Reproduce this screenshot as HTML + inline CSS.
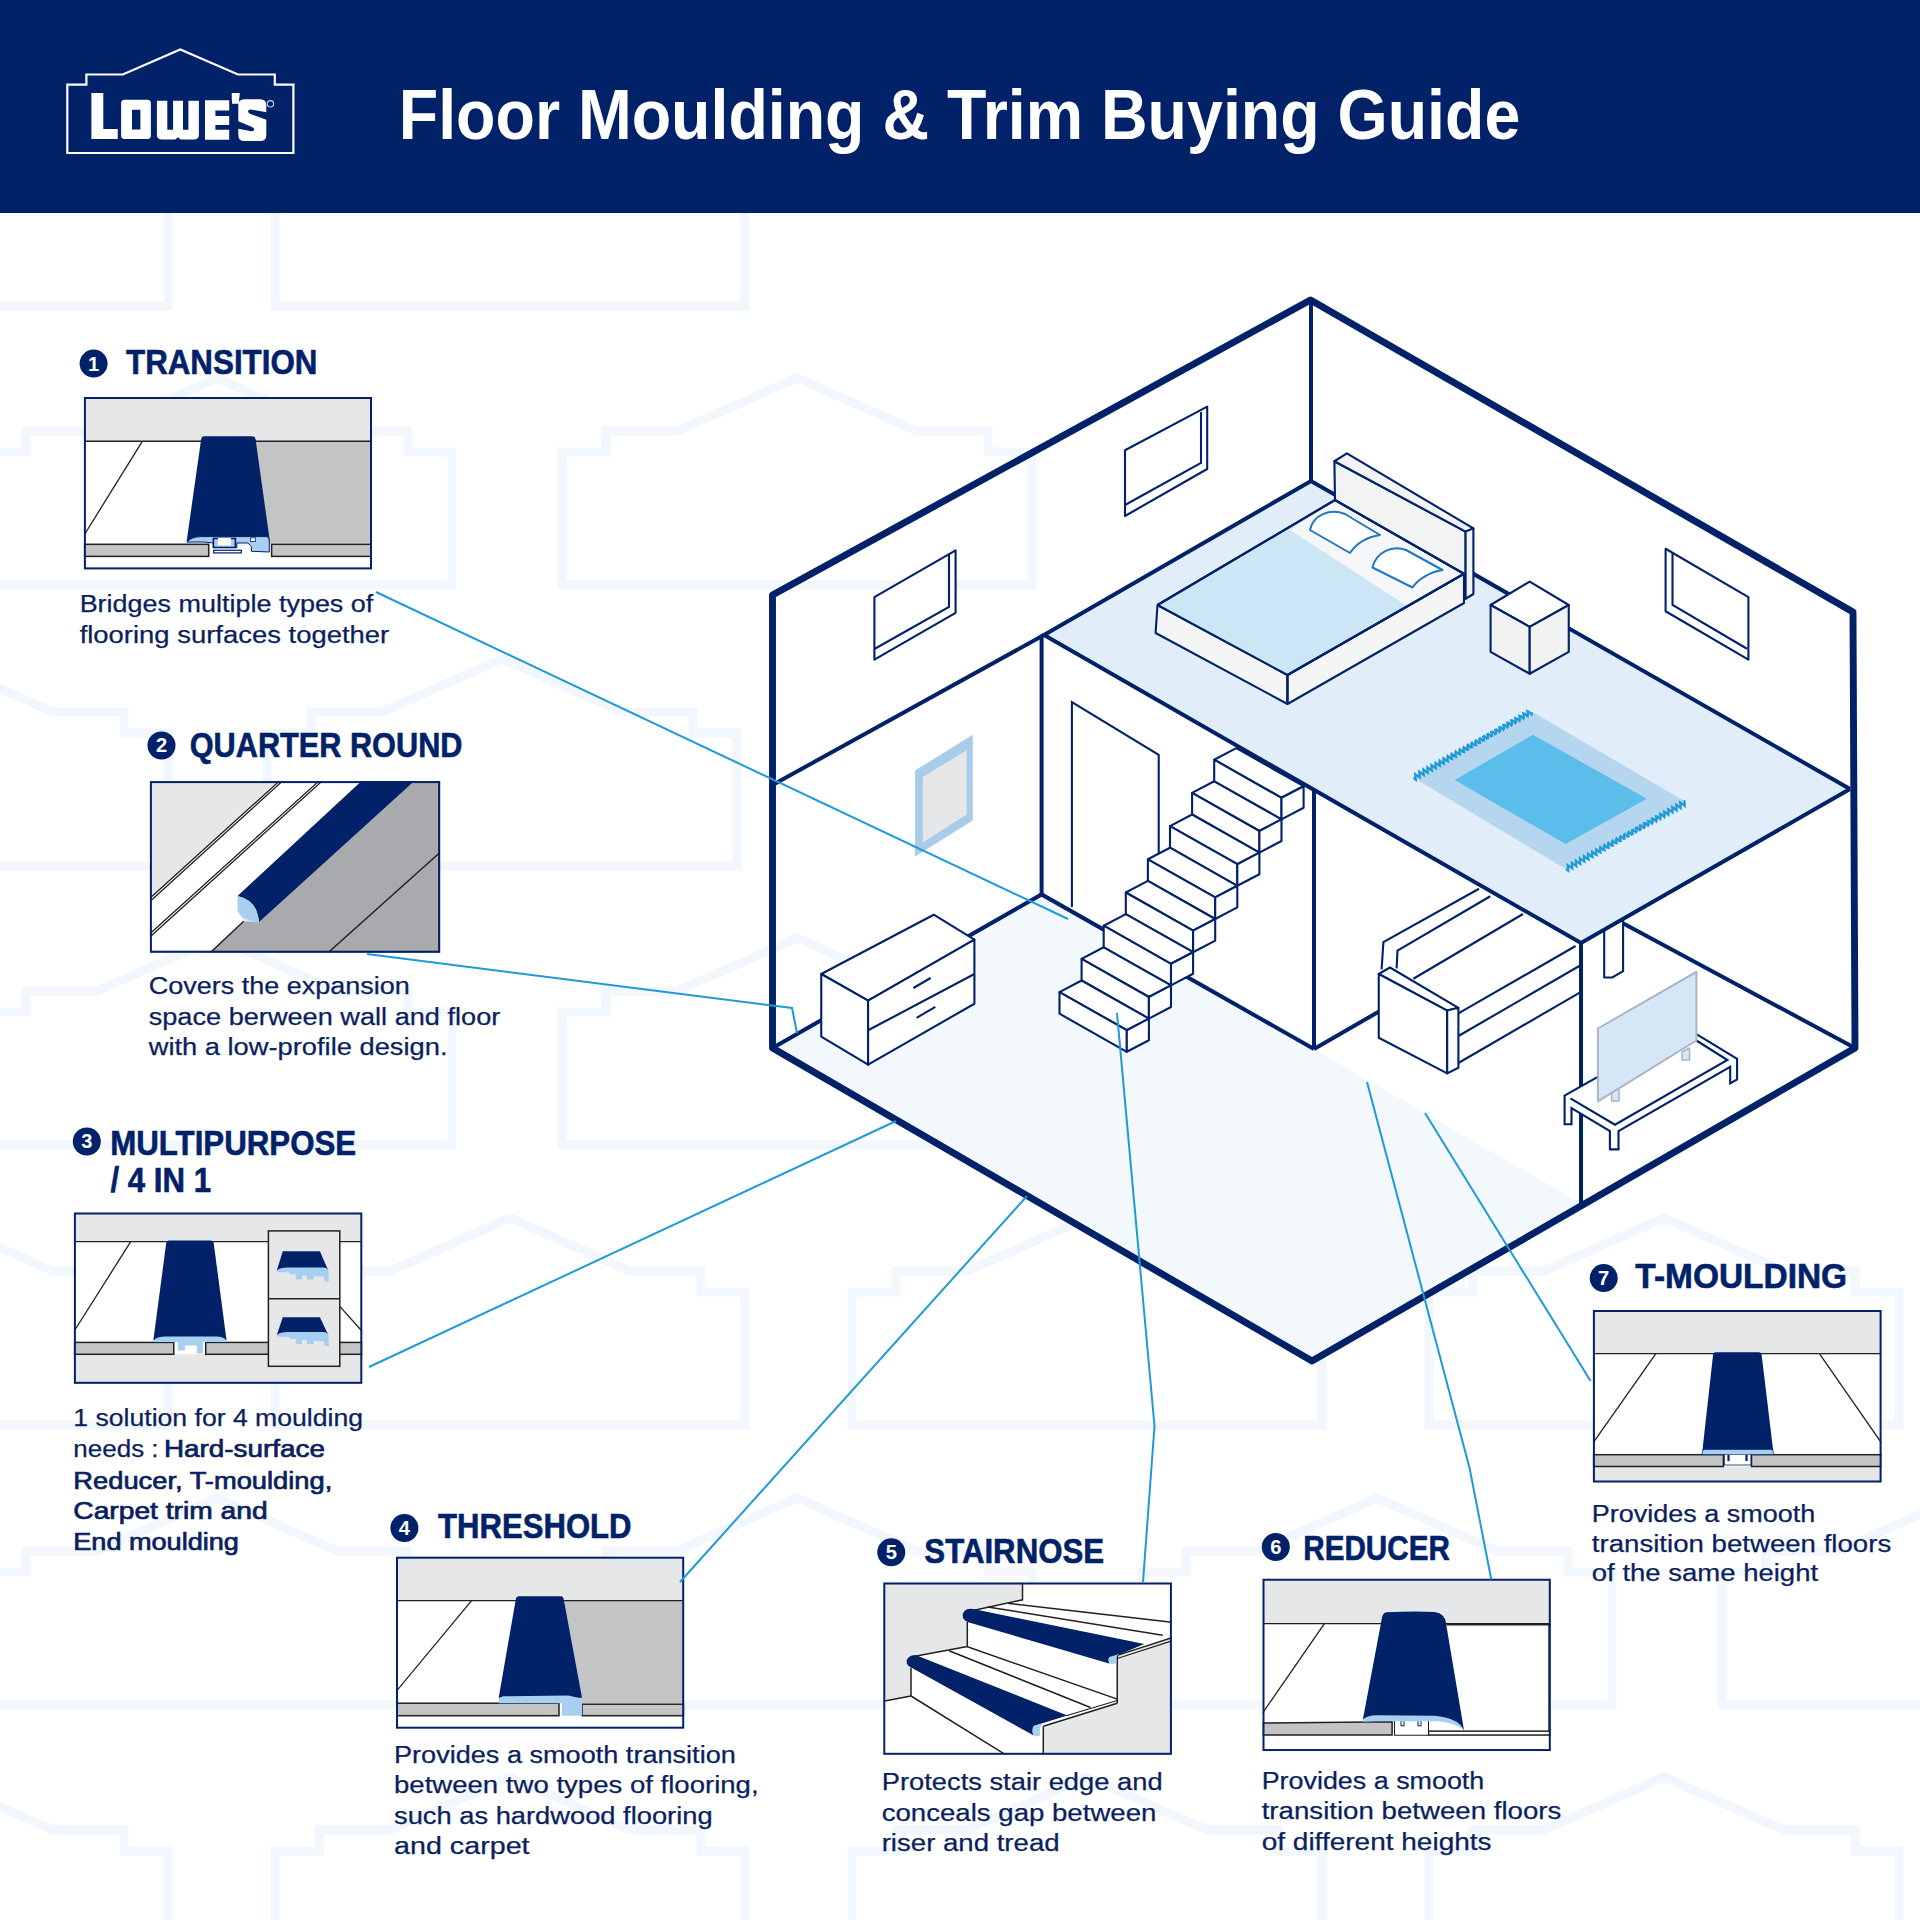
<!DOCTYPE html>
<html><head><meta charset="utf-8"><title>Floor Moulding &amp; Trim Buying Guide</title>
<style>html,body{margin:0;padding:0;background:#fff;width:1920px;height:1920px;overflow:hidden}svg{display:block}</style>
</head><body>
<svg width="1920" height="1920" viewBox="0 0 1920 1920">
<g fill="none" stroke="#F1F7FD" stroke-width="9" stroke-linejoin="miter">
<polygon points="-302.00,306.00 -302.00,173.00 -258.00,173.00 -258.00,152.00 -187.00,152.00 -67.00,99.00 53.00,152.00 124.00,152.00 124.00,173.00 168.00,173.00 168.00,306.00"/>
<polygon points="275.00,306.00 275.00,173.00 319.00,173.00 319.00,152.00 390.00,152.00 510.00,99.00 630.00,152.00 701.00,152.00 701.00,173.00 745.00,173.00 745.00,306.00"/>
<polygon points="-18.00,585.00 -18.00,452.00 26.00,452.00 26.00,431.00 97.00,431.00 217.00,378.00 337.00,431.00 408.00,431.00 408.00,452.00 452.00,452.00 452.00,585.00"/>
<polygon points="562.00,585.00 562.00,452.00 606.00,452.00 606.00,431.00 677.00,431.00 797.00,378.00 917.00,431.00 988.00,431.00 988.00,452.00 1032.00,452.00 1032.00,585.00"/>
<polygon points="-302.00,866.00 -302.00,733.00 -258.00,733.00 -258.00,712.00 -187.00,712.00 -67.00,659.00 53.00,712.00 124.00,712.00 124.00,733.00 168.00,733.00 168.00,866.00"/>
<polygon points="267.00,866.00 267.00,733.00 311.00,733.00 311.00,712.00 382.00,712.00 502.00,659.00 622.00,712.00 693.00,712.00 693.00,733.00 737.00,733.00 737.00,866.00"/>
<polygon points="-18.00,1145.00 -18.00,1012.00 26.00,1012.00 26.00,991.00 97.00,991.00 217.00,938.00 337.00,991.00 408.00,991.00 408.00,1012.00 452.00,1012.00 452.00,1145.00"/>
<polygon points="562.00,1145.00 562.00,1012.00 606.00,1012.00 606.00,991.00 677.00,991.00 797.00,938.00 917.00,991.00 988.00,991.00 988.00,1012.00 1032.00,1012.00 1032.00,1145.00"/>
<polygon points="-302.00,1425.00 -302.00,1292.00 -258.00,1292.00 -258.00,1271.00 -187.00,1271.00 -67.00,1218.00 53.00,1271.00 124.00,1271.00 124.00,1292.00 168.00,1292.00 168.00,1425.00"/>
<polygon points="275.00,1425.00 275.00,1292.00 319.00,1292.00 319.00,1271.00 390.00,1271.00 510.00,1218.00 630.00,1271.00 701.00,1271.00 701.00,1292.00 745.00,1292.00 745.00,1425.00"/>
<polygon points="852.00,1425.00 852.00,1292.00 896.00,1292.00 896.00,1271.00 967.00,1271.00 1087.00,1218.00 1207.00,1271.00 1278.00,1271.00 1278.00,1292.00 1322.00,1292.00 1322.00,1425.00"/>
<polygon points="1429.00,1425.00 1429.00,1292.00 1473.00,1292.00 1473.00,1271.00 1544.00,1271.00 1664.00,1218.00 1784.00,1271.00 1855.00,1271.00 1855.00,1292.00 1899.00,1292.00 1899.00,1425.00"/>
<polygon points="-18.00,1705.00 -18.00,1572.00 26.00,1572.00 26.00,1551.00 97.00,1551.00 217.00,1498.00 337.00,1551.00 408.00,1551.00 408.00,1572.00 452.00,1572.00 452.00,1705.00"/>
<polygon points="562.00,1705.00 562.00,1572.00 606.00,1572.00 606.00,1551.00 677.00,1551.00 797.00,1498.00 917.00,1551.00 988.00,1551.00 988.00,1572.00 1032.00,1572.00 1032.00,1705.00"/>
<polygon points="1142.00,1705.00 1142.00,1572.00 1186.00,1572.00 1186.00,1551.00 1257.00,1551.00 1377.00,1498.00 1497.00,1551.00 1568.00,1551.00 1568.00,1572.00 1612.00,1572.00 1612.00,1705.00"/>
<polygon points="1722.00,1705.00 1722.00,1572.00 1766.00,1572.00 1766.00,1551.00 1837.00,1551.00 1957.00,1498.00 2077.00,1551.00 2148.00,1551.00 2148.00,1572.00 2192.00,1572.00 2192.00,1705.00"/>
<polygon points="-302.00,1984.00 -302.00,1851.00 -258.00,1851.00 -258.00,1830.00 -187.00,1830.00 -67.00,1777.00 53.00,1830.00 124.00,1830.00 124.00,1851.00 168.00,1851.00 168.00,1984.00"/>
<polygon points="275.00,1984.00 275.00,1851.00 319.00,1851.00 319.00,1830.00 390.00,1830.00 510.00,1777.00 630.00,1830.00 701.00,1830.00 701.00,1851.00 745.00,1851.00 745.00,1984.00"/>
<polygon points="852.00,1984.00 852.00,1851.00 896.00,1851.00 896.00,1830.00 967.00,1830.00 1087.00,1777.00 1207.00,1830.00 1278.00,1830.00 1278.00,1851.00 1322.00,1851.00 1322.00,1984.00"/>
<polygon points="1429.00,1984.00 1429.00,1851.00 1473.00,1851.00 1473.00,1830.00 1544.00,1830.00 1664.00,1777.00 1784.00,1830.00 1855.00,1830.00 1855.00,1851.00 1899.00,1851.00 1899.00,1984.00"/>
</g>
<rect x="0" y="0" width="1920" height="213" fill="#012169"/>
<polygon points="67.30,153.00 67.30,84.70 86.40,84.70 86.40,74.50 122.80,74.50 180.30,49.50 238.00,74.50 274.80,74.50 274.80,84.70 293.40,84.70 293.40,153.00" fill="none" stroke="#fff" stroke-width="2.2" stroke-linejoin="miter"/>
<g fill="#fff">
<path d="M91.4 92.9 H103.3 V129 H117.7 V138.9 H91.4 Z"/>
<path fill-rule="evenodd" d="M124.6 99.8 H147.3 Q150.9 99.8 150.9 103.3 V135.4 Q150.9 138.9 147.3 138.9 H124.6 Q121.1 138.9 121.1 135.4 V103.3 Q121.1 99.8 124.6 99.8 Z M132 109.7 V129.5 H140.4 V109.7 Z"/>
<path d="M156.9 100.8 H167.3 V129.8 H173.1 V100.8 H183 V129.8 H188.4 V100.8 H198.9 V134.5 Q198.9 139.5 194 139.5 H180.5 L177.9 137.3 L175.3 139.5 H161.9 Q156.9 139.5 156.9 134.5 Z"/>
<path d="M205 100.3 H229.2 V110.5 H215.4 V115.9 H229.2 V125.1 H215.4 V129.7 H229.2 V139.7 H205 Z"/>
<path d="M231.7 93 H239.8 L238.75 103.8 H232 Z"/>
<path fill-rule="evenodd" d="M244.3 99.3 H260.3 Q266.3 99.3 266.3 105.3 V134.9 Q266.3 140.9 260.3 140.9 H244.3 Q238.3 140.9 238.3 134.9 V105.3 Q238.3 99.3 244.3 99.3 Z M266.3 112.2 L251 109.5 Q248 109.3 248 111.5 Q248.3 113.3 250.5 114 L266.3 119.7 Z M238.3 121.3 L252 127 Q255 128.5 254 130.3 Q253 131.5 250 131 L238.3 128.8 Z"/>
</g>
<circle cx="270.4" cy="103.8" r="3.2" fill="none" stroke="#C9D3EE" stroke-width="1.1"/>
<text x="398.8" y="138.75" font-family="Liberation Sans" font-weight="bold" font-size="70.5" fill="#fff" textLength="1121.5" lengthAdjust="spacingAndGlyphs">Floor Moulding &amp; Trim Buying Guide</text>
<polygon points="772.50,1048.00 1041.60,894.40 1314.00,1049.00 1579.00,1202.00 1312.00,1361.00" fill="#F3F8FC" stroke="none" stroke-width="0" stroke-linejoin="round" />
<line x1="1041.60" y1="635.00" x2="1041.60" y2="894.40" stroke="#012169" stroke-width="4.0" stroke-linecap="butt"/>
<polyline points="772.50,1048.00 1041.60,894.40 1314.00,1049.00" fill="none" stroke="#012169" stroke-width="4.0" stroke-linejoin="miter" stroke-linecap="butt" />
<line x1="1314.00" y1="790.00" x2="1314.00" y2="1049.00" stroke="#012169" stroke-width="4.0" stroke-linecap="butt"/>
<line x1="1314.00" y1="1049.00" x2="1581.00" y2="895.00" stroke="#012169" stroke-width="4.0" stroke-linecap="butt"/>
<line x1="1581.00" y1="943.00" x2="1581.00" y2="1203.00" stroke="#012169" stroke-width="4.0" stroke-linecap="butt"/>
<line x1="1623.40" y1="923.40" x2="1855.00" y2="1048.00" stroke="#012169" stroke-width="4.0" stroke-linecap="butt"/>
<polyline points="1071.90,906.90 1071.90,702.00 1158.70,754.80 1158.70,870.00" fill="none" stroke="#012169" stroke-width="2.1" stroke-linejoin="miter" stroke-linecap="butt" />
<polygon points="915.00,770.60 972.80,734.70 972.80,820.60 915.00,856.60" fill="#A9CCEB" stroke="none" stroke-width="0" stroke-linejoin="round" />
<polygon points="922.80,776.90 966.60,750.30 966.60,814.40 922.80,842.50" fill="#E6E7E9" stroke="none" stroke-width="0" stroke-linejoin="round" />
<polygon points="821.25,974.00 933.75,914.70 974.40,939.70 868.10,1000.60" fill="#fff" stroke="#012169" stroke-width="2.1" stroke-linejoin="round" />
<polygon points="821.25,974.00 868.10,1000.60 868.10,1064.70 821.25,1036.60" fill="#fff" stroke="#012169" stroke-width="2.1" stroke-linejoin="round" />
<polygon points="868.10,1000.60 974.40,939.70 974.40,1003.75 868.10,1064.70" fill="#fff" stroke="#012169" stroke-width="2.1" stroke-linejoin="round" />
<line x1="868.10" y1="1030.30" x2="974.40" y2="974.00" stroke="#012169" stroke-width="2.1" stroke-linecap="butt"/>
<line x1="913.40" y1="988.00" x2="930.60" y2="978.00" stroke="#012169" stroke-width="2.1" stroke-linecap="butt"/>
<line x1="916.60" y1="1017.80" x2="935.30" y2="1006.90" stroke="#012169" stroke-width="2.1" stroke-linecap="butt"/>
<polygon points="1214.20,759.70 1236.30,748.10 1303.60,786.20 1281.50,797.80" fill="#fff" stroke="#012169" stroke-width="2.1" stroke-linejoin="round" />
<polygon points="1214.20,759.70 1281.50,797.80 1281.50,819.40 1214.20,781.30" fill="#fff" stroke="#012169" stroke-width="2.1" stroke-linejoin="round" />
<polygon points="1281.50,797.80 1303.60,786.20 1303.60,807.80 1281.50,819.40" fill="#fff" stroke="#012169" stroke-width="2.1" stroke-linejoin="round" />
<polygon points="1192.10,792.90 1214.20,781.30 1281.50,819.40 1259.40,831.00" fill="#fff" stroke="#012169" stroke-width="2.1" stroke-linejoin="round" />
<polygon points="1192.10,792.90 1259.40,831.00 1259.40,852.60 1192.10,814.50" fill="#fff" stroke="#012169" stroke-width="2.1" stroke-linejoin="round" />
<polygon points="1259.40,831.00 1281.50,819.40 1281.50,841.00 1259.40,852.60" fill="#fff" stroke="#012169" stroke-width="2.1" stroke-linejoin="round" />
<polygon points="1170.00,826.10 1192.10,814.50 1259.40,852.60 1237.30,864.20" fill="#fff" stroke="#012169" stroke-width="2.1" stroke-linejoin="round" />
<polygon points="1170.00,826.10 1237.30,864.20 1237.30,885.80 1170.00,847.70" fill="#fff" stroke="#012169" stroke-width="2.1" stroke-linejoin="round" />
<polygon points="1237.30,864.20 1259.40,852.60 1259.40,874.20 1237.30,885.80" fill="#fff" stroke="#012169" stroke-width="2.1" stroke-linejoin="round" />
<polygon points="1147.90,859.30 1170.00,847.70 1237.30,885.80 1215.20,897.40" fill="#fff" stroke="#012169" stroke-width="2.1" stroke-linejoin="round" />
<polygon points="1147.90,859.30 1215.20,897.40 1215.20,919.00 1147.90,880.90" fill="#fff" stroke="#012169" stroke-width="2.1" stroke-linejoin="round" />
<polygon points="1215.20,897.40 1237.30,885.80 1237.30,907.40 1215.20,919.00" fill="#fff" stroke="#012169" stroke-width="2.1" stroke-linejoin="round" />
<polygon points="1125.80,892.50 1147.90,880.90 1215.20,919.00 1193.10,930.60" fill="#fff" stroke="#012169" stroke-width="2.1" stroke-linejoin="round" />
<polygon points="1125.80,892.50 1193.10,930.60 1193.10,952.20 1125.80,914.10" fill="#fff" stroke="#012169" stroke-width="2.1" stroke-linejoin="round" />
<polygon points="1193.10,930.60 1215.20,919.00 1215.20,940.60 1193.10,952.20" fill="#fff" stroke="#012169" stroke-width="2.1" stroke-linejoin="round" />
<polygon points="1103.70,925.70 1125.80,914.10 1193.10,952.20 1171.00,963.80" fill="#fff" stroke="#012169" stroke-width="2.1" stroke-linejoin="round" />
<polygon points="1103.70,925.70 1171.00,963.80 1171.00,985.40 1103.70,947.30" fill="#fff" stroke="#012169" stroke-width="2.1" stroke-linejoin="round" />
<polygon points="1171.00,963.80 1193.10,952.20 1193.10,973.80 1171.00,985.40" fill="#fff" stroke="#012169" stroke-width="2.1" stroke-linejoin="round" />
<polygon points="1081.60,958.90 1103.70,947.30 1171.00,985.40 1148.90,997.00" fill="#fff" stroke="#012169" stroke-width="2.1" stroke-linejoin="round" />
<polygon points="1081.60,958.90 1148.90,997.00 1148.90,1018.60 1081.60,980.50" fill="#fff" stroke="#012169" stroke-width="2.1" stroke-linejoin="round" />
<polygon points="1148.90,997.00 1171.00,985.40 1171.00,1007.00 1148.90,1018.60" fill="#fff" stroke="#012169" stroke-width="2.1" stroke-linejoin="round" />
<polygon points="1059.50,992.10 1081.60,980.50 1148.90,1018.60 1126.80,1030.20" fill="#fff" stroke="#012169" stroke-width="2.1" stroke-linejoin="round" />
<polygon points="1059.50,992.10 1126.80,1030.20 1126.80,1051.80 1059.50,1013.70" fill="#fff" stroke="#012169" stroke-width="2.1" stroke-linejoin="round" />
<polygon points="1126.80,1030.20 1148.90,1018.60 1148.90,1040.20 1126.80,1051.80" fill="#fff" stroke="#012169" stroke-width="2.1" stroke-linejoin="round" />
<polygon points="1604.20,920.00 1604.20,977.50 1612.20,977.50 1623.10,971.20 1623.10,915.00" fill="#fff" stroke="#012169" stroke-width="2.1" stroke-linejoin="round" />
<polygon points="1383.40,942.20 1479.00,888.75 1581.00,880.00 1581.00,992.00 1447.20,1073.40 1378.75,1037.80" fill="#fff" stroke="none" stroke-width="0" stroke-linejoin="round" />
<polyline points="1381.60,969.40 1383.40,942.20 1479.00,888.75" fill="none" stroke="#012169" stroke-width="2.1" stroke-linejoin="miter" stroke-linecap="butt" />
<polyline points="1396.60,968.40 1397.50,950.60 1490.30,896.25" fill="none" stroke="#012169" stroke-width="2.1" stroke-linejoin="miter" stroke-linecap="butt" />
<line x1="1413.40" y1="978.75" x2="1523.00" y2="914.00" stroke="#012169" stroke-width="2.1" stroke-linecap="butt"/>
<line x1="1458.40" y1="1013.40" x2="1575.60" y2="946.00" stroke="#012169" stroke-width="2.1" stroke-linecap="butt"/>
<line x1="1458.40" y1="1036.00" x2="1581.00" y2="965.00" stroke="#012169" stroke-width="2.1" stroke-linecap="butt"/>
<line x1="1458.40" y1="1063.00" x2="1581.00" y2="991.90" stroke="#012169" stroke-width="2.1" stroke-linecap="butt"/>
<polygon points="1378.75,974.00 1390.00,967.50 1458.40,1007.80 1447.20,1010.60" fill="#fff" stroke="#012169" stroke-width="2.1" stroke-linejoin="round" />
<polygon points="1378.75,974.00 1447.20,1010.60 1447.20,1073.40 1378.75,1037.80" fill="#fff" stroke="#012169" stroke-width="2.1" stroke-linejoin="round" />
<polygon points="1447.20,1010.60 1458.40,1007.80 1458.40,1067.80 1447.20,1073.40" fill="#fff" stroke="#012169" stroke-width="2.1" stroke-linejoin="round" />
<line x1="1581.00" y1="943.00" x2="1581.00" y2="1203.00" stroke="#012169" stroke-width="4.0" stroke-linecap="butt"/>
<polygon points="1564.60,1095.50 1597.30,1077.20 1696.40,1034.20 1737.10,1058.90 1730.20,1066.90 1618.50,1131.00 1609.90,1131.00 1571.50,1108.10 1564.60,1105.00" fill="#fff" stroke="none" stroke-width="0" stroke-linejoin="round" />
<polyline points="1597.30,1077.20 1564.60,1095.50 1564.60,1124.20 1571.50,1124.20 1571.50,1108.10 1609.90,1131.00 1609.90,1149.40 1618.50,1149.40 1618.50,1131.00 1730.20,1066.90 1730.20,1083.50 1737.10,1079.50 1737.10,1058.90 1696.40,1034.20" fill="none" stroke="#012169" stroke-width="2.1" stroke-linejoin="miter" stroke-linecap="butt" />
<polyline points="1570.40,1098.40 1615.00,1124.70 1727.40,1060.00 1696.40,1040.50" fill="none" stroke="#012169" stroke-width="2.1" stroke-linejoin="miter" stroke-linecap="butt" />
<polygon points="1611.60,1092.00 1619.00,1088.00 1619.00,1101.00 1611.60,1101.00" fill="#D5E7F7" stroke="#A9B4C2" stroke-width="1.5" stroke-linejoin="round" />
<polygon points="1682.00,1052.00 1689.50,1048.00 1689.50,1060.00 1682.00,1060.00" fill="#D5E7F7" stroke="#A9B4C2" stroke-width="1.5" stroke-linejoin="round" />
<polygon points="1597.90,1028.50 1696.40,971.80 1696.40,1040.50 1597.90,1101.30" fill="#D5E7F7" stroke="#A9B4C2" stroke-width="2" stroke-linejoin="round" />
<polygon points="1311.00,481.00 1044.00,635.00 1581.00,943.00 1850.00,789.00" fill="#E1EEF9" stroke="none" stroke-width="0" stroke-linejoin="round" />
<polyline points="1850.00,789.00 1311.00,481.00 1044.00,635.00 1581.00,943.00 1850.00,789.00" fill="none" stroke="#012169" stroke-width="4.0" stroke-linejoin="miter" stroke-linecap="butt" />
<line x1="1311.00" y1="300.00" x2="1311.00" y2="481.00" stroke="#012169" stroke-width="4.0" stroke-linecap="butt"/>
<line x1="772.50" y1="785.00" x2="1044.00" y2="635.00" stroke="#012169" stroke-width="4.0" stroke-linecap="butt"/>
<polygon points="1412.50,776.90 1531.25,711.25 1685.90,801.90 1565.60,869.00" fill="#B6D6EF" stroke="none" stroke-width="0" stroke-linejoin="round" />
<polygon points="1454.70,780.00 1532.80,734.70 1646.90,798.75 1565.60,844.00" fill="#5BBDEA" stroke="none" stroke-width="0" stroke-linejoin="round" />
<polyline points="1413.50,778.00 1415.78,779.70 1415.49,776.82 1415.25,774.03 1417.59,775.82 1419.82,777.42 1419.47,774.45 1419.29,771.76 1421.68,773.64 1423.85,775.14 1423.45,772.08 1423.33,769.50 1425.76,771.46 1427.88,772.86 1427.43,769.71 1427.37,767.24 1429.85,769.28 1431.90,770.57 1431.41,767.34 1431.41,764.98 1433.94,767.10 1435.93,768.27 1435.40,764.98 1435.46,762.73 1438.02,764.92 1439.95,765.98 1439.38,762.61 1439.51,760.48 1442.11,762.74 1443.97,763.68 1443.36,760.25 1443.56,758.23 1446.19,760.56 1447.98,761.37 1447.35,757.88 1447.61,755.99 1450.28,758.37 1452.00,759.07 1451.33,755.52 1451.66,753.76 1454.36,756.19 1456.01,756.76 1455.31,753.16 1455.72,751.52 1458.44,754.00 1460.02,754.44 1459.30,750.80 1459.78,749.29 1462.53,751.81 1464.03,752.12 1463.29,748.45 1463.84,747.06 1466.61,749.62 1468.04,749.80 1467.28,746.09 1467.90,744.84 1470.69,747.43 1472.04,747.47 1471.27,743.74 1471.96,742.62 1474.76,745.23 1476.05,745.15 1475.26,741.39 1476.03,740.40 1478.84,743.03 1480.05,742.81 1479.25,739.04 1480.10,738.19 1482.92,740.83 1484.05,740.48 1483.24,736.70 1484.17,735.98 1486.99,738.63 1488.04,738.14 1487.24,734.35 1488.24,733.77 1491.06,736.42 1492.04,735.80 1491.24,732.01 1492.31,731.57 1495.13,734.22 1496.04,733.46 1495.23,729.68 1496.39,729.37 1499.20,732.00 1500.03,731.11 1499.23,727.34 1500.46,727.17 1503.27,729.79 1504.02,728.76 1503.24,725.01 1504.54,724.97 1507.34,727.57 1508.01,726.41 1507.24,722.68 1508.62,722.77 1511.40,725.35 1512.00,724.06 1511.24,720.36 1512.70,720.58 1515.46,723.13 1515.99,721.70 1515.25,718.04 1516.78,718.39 1519.52,720.90 1519.98,719.35 1519.26,715.72 1520.86,716.20 1523.58,718.67 1523.96,716.99 1523.27,713.41 1524.94,714.01 1527.63,716.43 1527.95,714.63 1527.29,711.10 1529.03,711.83 1531.69,714.19 1531.93,712.26" fill="none" stroke="#1E9AD6" stroke-width="2.2"/>
<polyline points="1566.00,869.00 1568.28,870.71 1567.99,867.82 1567.77,865.04 1570.11,866.86 1572.33,868.45 1571.98,865.45 1571.83,862.79 1574.23,864.71 1576.37,866.19 1575.97,863.09 1575.89,860.55 1578.34,862.57 1580.41,863.92 1579.96,860.72 1579.95,858.31 1582.45,860.43 1584.45,861.64 1583.95,858.36 1584.01,856.08 1586.56,858.28 1588.49,859.36 1587.94,856.00 1588.08,853.86 1590.67,856.13 1592.52,857.08 1591.94,853.64 1592.15,851.63 1594.78,853.98 1596.55,854.79 1595.93,851.28 1596.22,849.42 1598.89,851.83 1600.58,852.49 1599.92,848.92 1600.29,847.21 1603.00,849.68 1604.61,850.19 1603.92,846.57 1604.37,845.00 1607.10,847.53 1608.63,847.89 1607.91,844.21 1608.45,842.80 1611.21,845.37 1612.65,845.58 1611.91,841.86 1612.54,840.61 1615.31,843.21 1616.67,843.26 1615.91,839.52 1616.62,838.41 1619.41,841.04 1620.68,840.94 1619.91,837.17 1620.71,836.23 1623.51,838.88 1624.69,838.62 1623.91,834.83 1624.80,834.04 1627.61,836.71 1628.70,836.29 1627.92,832.50 1628.89,831.87 1631.71,834.54 1632.71,833.96 1631.93,830.16 1632.99,829.69 1635.80,832.36 1636.72,831.62 1635.93,827.83 1637.09,827.52 1639.89,830.18 1640.72,829.28 1639.95,825.51 1641.19,825.35 1643.98,827.99 1644.72,826.94 1643.96,823.19 1645.29,823.19 1648.07,825.80 1648.72,824.60 1647.98,820.87 1649.39,821.03 1652.15,823.61 1652.72,822.25 1652.00,818.56 1653.49,818.87 1656.23,821.41 1656.72,819.90 1656.02,816.25 1657.60,816.71 1660.31,819.20 1660.71,817.54 1660.04,813.95 1661.71,814.56 1664.39,816.99 1664.71,815.19 1664.07,811.65 1665.81,812.41 1668.46,814.78 1668.70,812.83 1668.10,809.36 1669.92,810.26 1672.53,812.56 1672.69,810.47 1672.13,807.08 1674.03,808.11 1676.60,810.34 1676.68,808.11 1676.17,804.79 1678.14,805.97 1680.66,808.11 1680.67,805.74 1680.20,802.52 1682.26,803.82 1684.72,805.87 1684.66,803.38 1684.25,800.25" fill="none" stroke="#1E9AD6" stroke-width="2.2"/>
<polygon points="1157.50,605.00 1287.50,675.00 1287.50,704.00 1155.60,633.00" fill="#F4F5F5" stroke="#012169" stroke-width="2.1" stroke-linejoin="round" />
<polygon points="1287.50,675.00 1464.00,573.75 1464.00,603.00 1287.50,704.00" fill="#F4F5F5" stroke="#012169" stroke-width="2.1" stroke-linejoin="round" />
<polygon points="1157.50,605.00 1335.00,500.00 1464.00,573.75 1287.50,675.00" fill="#CDE6F5" stroke="none" stroke-width="0" stroke-linejoin="round" />
<polygon points="1290.00,530.00 1335.00,500.00 1464.00,573.75 1407.00,606.00" fill="#F4F6F7" stroke="none" stroke-width="0" stroke-linejoin="round" />
<polyline points="1157.50,605.00 1335.00,500.00 1464.00,573.75 1287.50,675.00" fill="none" stroke="#012169" stroke-width="2.1" stroke-linejoin="miter" stroke-linecap="butt" />
<polygon points="1334.40,461.25 1465.60,531.60 1465.60,598.75 1464.00,573.75 1335.00,500.00" fill="#F2F3F3" stroke="#012169" stroke-width="2.1" stroke-linejoin="round" />
<polygon points="1334.40,461.25 1346.90,453.40 1473.40,528.40 1465.60,531.60" fill="#F2F3F3" stroke="#012169" stroke-width="2.1" stroke-linejoin="round" />
<polygon points="1465.60,531.60 1473.40,528.40 1473.40,594.00 1465.60,598.75" fill="#F2F3F3" stroke="#012169" stroke-width="2.1" stroke-linejoin="round" />
<polyline points="1157.50,605.00 1335.00,500.00 1464.00,573.75 1287.50,675.00 1157.50,605.00" fill="none" stroke="#012169" stroke-width="2.1" stroke-linejoin="miter" stroke-linecap="butt" />
<line x1="1287.50" y1="675.00" x2="1287.50" y2="704.00" stroke="#012169" stroke-width="2.1" stroke-linecap="butt"/>
<path d="M1310 530 C1313 515 1330 508 1345 514 L1380 535 C1367 537 1356 544 1350 553 Z" fill="#fff" stroke="#1F78C1" stroke-width="2" stroke-linejoin="round"/>
<path d="M1372.5 567.5 C1376 552 1392 545 1406 550 L1442.5 570 C1430 572 1418 579 1412.5 587.5 Z" fill="#fff" stroke="#1F78C1" stroke-width="2" stroke-linejoin="round"/>
<polygon points="1529.70,581.60 1568.75,605.00 1529.70,626.90 1490.60,605.00" fill="#fff" stroke="#012169" stroke-width="2.1" stroke-linejoin="round" />
<polygon points="1490.60,605.00 1529.70,626.90 1529.70,673.75 1490.60,651.90" fill="#F1F2F2" stroke="#012169" stroke-width="2.1" stroke-linejoin="round" />
<polygon points="1529.70,626.90 1568.75,605.00 1568.75,651.90 1529.70,673.75" fill="#F1F2F2" stroke="#012169" stroke-width="2.1" stroke-linejoin="round" />
<polygon points="874.40,597.20 955.60,550.30 955.60,612.80 874.40,659.70" fill="#fff" stroke="#012169" stroke-width="2.1" stroke-linejoin="round" />
<polyline points="874.40,649.00 949.00,607.00 949.00,555.00" fill="none" stroke="#012169" stroke-width="2.1" stroke-linejoin="miter" stroke-linecap="butt" />
<polygon points="1125.00,450.30 1207.20,406.60 1207.20,469.00 1125.00,516.00" fill="#fff" stroke="#012169" stroke-width="2.1" stroke-linejoin="round" />
<polyline points="1125.00,505.00 1201.00,463.00 1201.00,412.00" fill="none" stroke="#012169" stroke-width="2.1" stroke-linejoin="miter" stroke-linecap="butt" />
<polygon points="1665.60,548.75 1748.40,597.20 1748.40,659.70 1665.60,611.25" fill="#fff" stroke="#012169" stroke-width="2.1" stroke-linejoin="round" />
<polyline points="1672.50,553.00 1672.50,605.00 1747.00,648.75" fill="none" stroke="#012169" stroke-width="2.1" stroke-linejoin="miter" stroke-linecap="butt" />
<polygon points="1310.50,300.00 772.50,595.00 772.50,1048.00 1312.00,1361.00 1855.00,1048.00 1853.00,612.00" fill="none" stroke="#012169" stroke-width="6.9" stroke-linejoin="round" stroke-linejoin="miter"/>
<clipPath id="cc1"><rect x="0" y="0" width="288.1" height="172.4"/></clipPath>
<g transform="translate(83.9,397)"><g clip-path="url(#cc1)">
<rect x="0" y="0" width="288.1" height="172.4" fill="#fff"/>
<rect x="0.00" y="0.00" width="288.10" height="44.30" fill="#E6E7E9" stroke="none" stroke-width="0"/>
<rect x="169.00" y="44.30" width="119.10" height="102.10" fill="#C3C4C6" stroke="none" stroke-width="0"/>
<line x1="0.00" y1="44.30" x2="288.10" y2="44.30" stroke="#231F20" stroke-width="1.5" stroke-linecap="butt"/>
<line x1="58.40" y1="44.30" x2="0.00" y2="138.50" stroke="#231F20" stroke-width="1.3" stroke-linecap="butt"/>
<rect x="-1.00" y="147.30" width="125.80" height="12.10" fill="#C3C4C6" stroke="#231F20" stroke-width="1.5"/>
<rect x="187.70" y="147.30" width="101.40" height="12.10" fill="#C3C4C6" stroke="#231F20" stroke-width="1.5"/>
<path d="M120.4 39.3 L168.2 39.3 Q171.2 39.3 171.7 42.5 L186 144.7 L102.7 144.7 L117.2 42.5 Q117.7 39.3 120.4 39.3 Z" fill="#012169" stroke="none" stroke-width="0" stroke-linejoin="round" />
<path d="M103 145.2 Q107 139.6 118 139.6 L181.6 139.6 Q185.4 139.6 185.4 144 L185.4 155 L167.5 154.3 L167.5 149.5 L164 146 L153 146 L153 150.5 L129.5 150.5 L129.5 146 Q120 144.5 108 145 Z" fill="#A7CFEF" stroke="#012169" stroke-width="1" stroke-linejoin="round" />
<rect x="129.50" y="141.50" width="22.00" height="9.00" fill="none" stroke="#012169" stroke-width="1.6"/>
<rect x="134.00" y="141.00" width="13.00" height="7.50" fill="#fff" stroke="none" stroke-width="0"/>
<rect x="166.80" y="140.80" width="4.60" height="3.80" fill="#fff" stroke="#012169" stroke-width="0.8"/>
<rect x="129.80" y="153.30" width="27.60" height="2.60" fill="none" stroke="#012169" stroke-width="1.2"/>
</g>
<rect x="1" y="1" width="286.10" height="170.40" fill="none" stroke="#012169" stroke-width="2"/>
</g>
<clipPath id="cc2"><rect x="0" y="0" width="290.3" height="171.6"/></clipPath>
<g transform="translate(149.9,781.1)"><g clip-path="url(#cc2)">
<rect x="0" y="0" width="290.3" height="171.6" fill="#fff"/>
<rect x="0.00" y="0.00" width="290.30" height="171.60" fill="#E6E7E9" stroke="none" stroke-width="0"/>
<polygon points="129.40,0.00 211.70,0.00 87.70,114.80 87.70,129.00 93.80,140.20 60.30,171.60 0.00,171.60 0.00,116.80" fill="#fff" stroke="none" stroke-width="0" stroke-linejoin="round" />
<polygon points="264.50,0.00 290.30,0.00 290.30,171.60 60.30,171.60 93.80,140.20 109.00,141.20" fill="#A9AAAD" stroke="none" stroke-width="0" stroke-linejoin="round" />
<line x1="129.40" y1="0.00" x2="0.00" y2="117.20" stroke="#231F20" stroke-width="1.3" stroke-linecap="butt"/>
<line x1="132.60" y1="0.00" x2="0.00" y2="120.40" stroke="#231F20" stroke-width="1.3" stroke-linecap="butt"/>
<line x1="169.00" y1="0.00" x2="0.00" y2="152.60" stroke="#231F20" stroke-width="1.3" stroke-linecap="butt"/>
<line x1="172.20" y1="0.00" x2="0.00" y2="155.80" stroke="#231F20" stroke-width="1.3" stroke-linecap="butt"/>
<path d="M211.7 0 L264.5 0 L109 141.2 Q107.5 119 87.7 114.8 Z" fill="#012169" stroke="none" stroke-width="0" stroke-linejoin="round" />
<path d="M87.7 114.8 L87.7 130 Q92 140 109 141.2 Q107.5 119 87.7 114.8 Z" fill="#A7CFEF" stroke="none" stroke-width="0" stroke-linejoin="round" />
<line x1="93.80" y1="140.20" x2="60.30" y2="171.60" stroke="#231F20" stroke-width="1.5" stroke-linecap="butt"/>
<line x1="290.30" y1="71.10" x2="178.10" y2="171.60" stroke="#231F20" stroke-width="1.5" stroke-linecap="butt"/>
<line x1="0.00" y1="170.60" x2="290.30" y2="170.60" stroke="#231F20" stroke-width="1.5" stroke-linecap="butt"/>
<line x1="289.30" y1="0.00" x2="289.30" y2="171.60" stroke="#231F20" stroke-width="1.5" stroke-linecap="butt"/>
</g>
<rect x="1" y="1" width="288.30" height="169.60" fill="none" stroke="#012169" stroke-width="2"/>
</g>
<clipPath id="cc3"><rect x="0" y="0" width="288.4" height="171.3"/></clipPath>
<g transform="translate(73.9,1212.5)"><g clip-path="url(#cc3)">
<rect x="0" y="0" width="288.4" height="171.3" fill="#fff"/>
<rect x="0.00" y="0.00" width="288.40" height="29.20" fill="#E6E7E9" stroke="none" stroke-width="0"/>
<rect x="0.00" y="141.80" width="288.40" height="29.50" fill="#E6E7E9" stroke="none" stroke-width="0"/>
<line x1="0.00" y1="29.20" x2="288.40" y2="29.20" stroke="#231F20" stroke-width="1.3" stroke-linecap="butt"/>
<line x1="56.80" y1="29.20" x2="0.00" y2="119.00" stroke="#231F20" stroke-width="1.3" stroke-linecap="butt"/>
<line x1="265.90" y1="93.90" x2="288.40" y2="119.00" stroke="#231F20" stroke-width="1.3" stroke-linecap="butt"/>
<rect x="-1.00" y="129.90" width="100.90" height="11.90" fill="#C3C4C6" stroke="#231F20" stroke-width="1.5"/>
<rect x="131.80" y="129.90" width="157.60" height="11.90" fill="#C3C4C6" stroke="#231F20" stroke-width="1.5"/>
<path d="M95 28 L137 28 Q139.4 28 139.8 30.5 L152.6 127.5 L79.5 127.5 L92.3 30.5 Q92.7 28 95 28 Z" fill="#012169" stroke="none" stroke-width="0" stroke-linejoin="round" />
<path d="M79.5 128 Q83 124 92 124 L142 124 Q150 124 152.6 128 L152.6 129.5 L129 129.5 L129 141 L123 141 L123 133 L111 133 L111 138 L104 138 L104 129.5 L79.5 129.5 Z" fill="#A7CFEF" stroke="none" stroke-width="0" stroke-linejoin="round" />
<rect x="194.50" y="18.40" width="71.40" height="135.40" fill="#E6E7E9" stroke="#231F20" stroke-width="1.5"/>
<line x1="194.50" y1="86.20" x2="265.90" y2="86.20" stroke="#231F20" stroke-width="1.5" stroke-linecap="butt"/>
<path d="M208.9 38.8 L246 38.8 L254.4 58 L202.9 58 Z" fill="#012169" stroke="none" stroke-width="0" stroke-linejoin="round" />
<path d="M202.9 58 Q206 55 214 55 L250 55 Q254 56 254.4 58 L255 69 L251 69 L249.5 64 L240 64 L240 67 L233 67 L233 63 L228 63 L228 67 L222 67 L222 62 L216 62 L216 60 L203 59.5 Z" fill="#A7CFEF" stroke="none" stroke-width="0" stroke-linejoin="round" />
<path d="M208.9 104.7 L246 104.7 L254.4 122.6 L202.9 122.6 Z" fill="#012169" stroke="none" stroke-width="0" stroke-linejoin="round" />
<path d="M202.9 122.6 Q206 119.6 214 119.6 L250 119.6 Q254 120.6 254.4 122.6 L255 133.6 L251 133.6 L249.5 128.6 L240 128.6 L240 131.6 L233 131.6 L233 127.6 L228 127.6 L228 131.6 L222 131.6 L222 126.6 L216 126.6 L216 124.6 L203 124.1 Z" fill="#A7CFEF" stroke="none" stroke-width="0" stroke-linejoin="round" />
</g>
<rect x="1" y="1" width="286.40" height="169.30" fill="none" stroke="#012169" stroke-width="2"/>
</g>
<clipPath id="cc4"><rect x="0" y="0" width="288.2" height="172"/></clipPath>
<g transform="translate(396,1556.7)"><g clip-path="url(#cc4)">
<rect x="0" y="0" width="288.2" height="172" fill="#fff"/>
<rect x="0.00" y="0.00" width="288.20" height="44.00" fill="#E6E7E9" stroke="none" stroke-width="0"/>
<rect x="168.30" y="44.00" width="119.90" height="102.50" fill="#C3C4C6" stroke="none" stroke-width="0"/>
<line x1="0.00" y1="44.00" x2="288.20" y2="44.00" stroke="#231F20" stroke-width="1.3" stroke-linecap="butt"/>
<line x1="75.60" y1="44.00" x2="0.00" y2="135.00" stroke="#231F20" stroke-width="1.3" stroke-linecap="butt"/>
<rect x="-1.00" y="146.50" width="164.00" height="12.50" fill="#C3C4C6" stroke="#231F20" stroke-width="1.5"/>
<rect x="186.00" y="147.50" width="103.20" height="11.50" fill="#C3C4C6" stroke="#231F20" stroke-width="1.5"/>
<path d="M123 39.6 L164.7 39.6 Q167.3 39.6 167.7 42.5 L186 141 L102.7 141 L119.8 42.5 Q120.4 39.6 123 39.6 Z" fill="#012169" stroke="none" stroke-width="0" stroke-linejoin="round" />
<polygon points="102.70,141.50 107.00,139.50 172.50,138.80 186.00,142.00 186.00,159.00 166.00,159.00 166.00,146.50 102.70,146.50" fill="#A7CFEF" stroke="none" stroke-width="0" stroke-linejoin="round" />
</g>
<rect x="1" y="1" width="286.20" height="170.00" fill="none" stroke="#012169" stroke-width="2"/>
</g>
<clipPath id="cc5"><rect x="0" y="0" width="288.6" height="172.3"/></clipPath>
<g transform="translate(883.3,1582.5)"><g clip-path="url(#cc5)">
<rect x="0" y="0" width="288.6" height="172.3" fill="#fff"/>
<polygon points="0.00,0.00 139.20,0.00 139.20,17.30 84.00,29.20 84.00,64.00 27.70,74.60 27.70,113.50 0.00,118.75" fill="#E6E7E9" stroke="none" stroke-width="0" stroke-linejoin="round" />
<polygon points="233.96,72.90 288.60,55.20 288.60,172.30 160.00,172.30 160.00,143.75 233.96,120.80" fill="#E6E7E9" stroke="none" stroke-width="0" stroke-linejoin="round" />
<polyline points="139.20,0.00 139.20,17.30 84.00,29.20" fill="none" stroke="#231F20" stroke-width="1.5" stroke-linejoin="miter" stroke-linecap="butt" />
<line x1="124.60" y1="20.80" x2="288.60" y2="39.80" stroke="#231F20" stroke-width="1.5" stroke-linecap="butt"/>
<line x1="65.80" y1="68.20" x2="207.20" y2="125.00" stroke="#231F20" stroke-width="1.5" stroke-linecap="butt"/>
<line x1="104.30" y1="24.40" x2="279.40" y2="52.80" stroke="#231F20" stroke-width="1.5" stroke-linecap="butt"/>
<polyline points="84.00,39.60 84.00,64.30 233.96,116.60" fill="none" stroke="#231F20" stroke-width="1.5" stroke-linejoin="miter" stroke-linecap="butt" />
<line x1="84.00" y1="64.00" x2="27.70" y2="74.60" stroke="#231F20" stroke-width="1.5" stroke-linecap="butt"/>
<line x1="233.96" y1="72.90" x2="233.96" y2="120.80" stroke="#231F20" stroke-width="1.5" stroke-linecap="butt"/>
<polyline points="27.70,85.40 27.70,113.50 122.50,172.30" fill="none" stroke="#231F20" stroke-width="1.5" stroke-linejoin="miter" stroke-linecap="butt" />
<line x1="0.00" y1="118.75" x2="27.70" y2="113.50" stroke="#231F20" stroke-width="1.5" stroke-linecap="butt"/>
<line x1="160.00" y1="143.75" x2="160.00" y2="172.30" stroke="#231F20" stroke-width="1.5" stroke-linecap="butt"/>
<polyline points="233.96,72.90 288.60,55.20" fill="none" stroke="#231F20" stroke-width="1.5" stroke-linejoin="miter" stroke-linecap="butt" />
<polyline points="233.96,76.00 288.60,58.30" fill="none" stroke="#231F20" stroke-width="1.2" stroke-linejoin="miter" stroke-linecap="butt" />
<polyline points="160.00,143.75 233.96,120.80" fill="none" stroke="#231F20" stroke-width="1.5" stroke-linejoin="miter" stroke-linecap="butt" />
<polyline points="182.90,133.30 233.96,118.00" fill="none" stroke="#231F20" stroke-width="1.2" stroke-linejoin="miter" stroke-linecap="butt" />
<path d="M90 26.5 L261 61.5 L229 75 Q224 77 226.5 81.5 L226.7 81.25 L85 39.8 Q78.5 37 79.5 31.5 Q81.5 25.5 90 26.5 Z" fill="#012169" stroke="none" stroke-width="0" stroke-linejoin="round" />
<path d="M226 74.5 L236 71.5 Q231 74 233 81 L228 81.5 Q223 79 226 74.5 Z" fill="#A7CFEF" stroke="none" stroke-width="0" stroke-linejoin="round" />
<path d="M33.5 72.9 L184 133 L152 143 Q148 146 150.5 153 L28.75 85.6 Q22 82.5 23.5 77.5 Q26 71.8 33.5 72.9 Z" fill="#012169" stroke="none" stroke-width="0" stroke-linejoin="round" />
<path d="M150 143.5 L160 140.5 Q155 144 157 153 L152 154 Q147 151 150 143.5 Z" fill="#A7CFEF" stroke="none" stroke-width="0" stroke-linejoin="round" />
</g>
<rect x="1" y="1" width="286.60" height="170.30" fill="none" stroke="#012169" stroke-width="2"/>
</g>
<clipPath id="cc6"><rect x="0" y="0" width="288.3" height="172.3"/></clipPath>
<g transform="translate(1262.5,1578.75)"><g clip-path="url(#cc6)">
<rect x="0" y="0" width="288.3" height="172.3" fill="#fff"/>
<rect x="0.00" y="0.00" width="288.30" height="44.80" fill="#E6E7E9" stroke="none" stroke-width="0"/>
<line x1="0.00" y1="44.80" x2="288.30" y2="44.80" stroke="#231F20" stroke-width="1.3" stroke-linecap="butt"/>
<line x1="184.00" y1="46.00" x2="288.30" y2="46.00" stroke="#231F20" stroke-width="1.5" stroke-linecap="butt"/>
<line x1="61.90" y1="44.80" x2="0.00" y2="134.40" stroke="#231F20" stroke-width="1.3" stroke-linecap="butt"/>
<line x1="286.60" y1="45.00" x2="286.60" y2="156.25" stroke="#231F20" stroke-width="1.5" stroke-linecap="butt"/>
<polygon points="-1,144.3 129.6,143 129.6,156.25 -1,156.25" fill="#C3C4C6" stroke="#231F20" stroke-width="1.5"/>
<rect x="166.00" y="152.40" width="123.30" height="3.90" fill="#fff" stroke="#231F20" stroke-width="1.5"/>
<rect x="132.00" y="139.50" width="34.00" height="17.00" fill="#fff" stroke="#231F20" stroke-width="1"/>
<rect x="138.50" y="140.00" width="3.00" height="7.00" fill="none" stroke="#012169" stroke-width="1"/>
<rect x="155.50" y="140.00" width="3.00" height="7.00" fill="none" stroke="#012169" stroke-width="1"/>
<path d="M124 33.5 Q150 32.3 172 33.2 Q183 34.5 183.75 46 L201.5 151.5 Q193 141 176 139.5 L110 139.5 Q103 139.5 100.4 140.5 L119.3 40 Q120 34 124 33.5 Z" fill="#012169" stroke="none" stroke-width="0" stroke-linejoin="round" />
<path d="M100.4 141 Q104 136.5 114 136.5 L172 137 Q196 139 201.5 151.5 Q191 143.5 176 142.5 L112 142.5 Q105 142.5 100.4 143 Z" fill="#A7CFEF" stroke="none" stroke-width="0" stroke-linejoin="round" />
</g>
<rect x="1" y="1" width="286.30" height="170.30" fill="none" stroke="#012169" stroke-width="2"/>
</g>
<clipPath id="cc7"><rect x="0" y="0" width="288.7" height="172.5"/></clipPath>
<g transform="translate(1592.9,1310)"><g clip-path="url(#cc7)">
<rect x="0" y="0" width="288.7" height="172.5" fill="#fff"/>
<rect x="0.00" y="0.00" width="288.70" height="43.70" fill="#E6E7E9" stroke="none" stroke-width="0"/>
<rect x="0.00" y="156.50" width="288.70" height="16.00" fill="#E6E7E9" stroke="none" stroke-width="0"/>
<line x1="0.00" y1="43.70" x2="288.70" y2="43.70" stroke="#231F20" stroke-width="1.3" stroke-linecap="butt"/>
<line x1="63.00" y1="43.70" x2="0.00" y2="133.10" stroke="#231F20" stroke-width="1.3" stroke-linecap="butt"/>
<line x1="226.50" y1="43.70" x2="288.70" y2="133.10" stroke="#231F20" stroke-width="1.3" stroke-linecap="butt"/>
<rect x="-1.00" y="144.70" width="131.50" height="11.80" fill="#C3C4C6" stroke="#231F20" stroke-width="1.5"/>
<rect x="158.60" y="144.70" width="131.10" height="11.80" fill="#C3C4C6" stroke="#231F20" stroke-width="1.5"/>
<rect x="131.50" y="141.50" width="26.50" height="13.50" fill="#fff" stroke="#012169" stroke-width="0.8"/>
<path d="M123 42.2 L166 42.2 Q168.4 42.2 168.7 44.5 L180.5 142.5 L109.3 142.5 L120.2 44.5 Q120.5 42.2 123 42.2 Z" fill="#012169" stroke="none" stroke-width="0" stroke-linejoin="round" />
<path d="M112 139.5 L178 139.5 Q180.5 139.5 180.5 142 L180.5 144.5 L109.3 144.5 L109.3 142 Q109.5 139.5 112 139.5 Z" fill="#A7CFEF" stroke="#012169" stroke-width="0.6" stroke-linejoin="round" />
<rect x="134.50" y="145.00" width="2.20" height="6.00" fill="#012169" stroke="none" stroke-width="0"/>
<rect x="152.50" y="145.00" width="2.20" height="6.00" fill="#012169" stroke="none" stroke-width="0"/>
</g>
<rect x="1" y="1" width="286.70" height="170.50" fill="none" stroke="#012169" stroke-width="2"/>
</g>
<circle cx="93.6" cy="363.6" r="14" fill="#012169"/>
<text x="88.00" y="370.50" font-family="Liberation Sans" font-weight="bold" font-size="19.5" fill="#fff" textLength="11.20" lengthAdjust="spacingAndGlyphs" >1</text>
<text x="126.00" y="373.90" font-family="Liberation Sans" font-weight="bold" font-size="34.2" fill="#012169" textLength="191.40" lengthAdjust="spacingAndGlyphs" stroke="#012169" stroke-width="0.6">TRANSITION</text>
<circle cx="161.5" cy="745.5" r="14" fill="#012169"/>
<text x="155.90" y="752.40" font-family="Liberation Sans" font-weight="bold" font-size="19.5" fill="#fff" textLength="11.20" lengthAdjust="spacingAndGlyphs" >2</text>
<text x="189.70" y="756.70" font-family="Liberation Sans" font-weight="bold" font-size="34.2" fill="#012169" textLength="272.80" lengthAdjust="spacingAndGlyphs" stroke="#012169" stroke-width="0.6">QUARTER ROUND</text>
<circle cx="86.8" cy="1141.5" r="14" fill="#012169"/>
<text x="81.20" y="1148.40" font-family="Liberation Sans" font-weight="bold" font-size="19.5" fill="#fff" textLength="11.20" lengthAdjust="spacingAndGlyphs" >3</text>
<text x="110.20" y="1155.00" font-family="Liberation Sans" font-weight="bold" font-size="34.2" fill="#012169" textLength="246.00" lengthAdjust="spacingAndGlyphs" stroke="#012169" stroke-width="0.6">MULTIPURPOSE</text>
<circle cx="404.4" cy="1528" r="14" fill="#012169"/>
<text x="398.80" y="1534.90" font-family="Liberation Sans" font-weight="bold" font-size="19.5" fill="#fff" textLength="11.20" lengthAdjust="spacingAndGlyphs" >4</text>
<text x="438.10" y="1537.50" font-family="Liberation Sans" font-weight="bold" font-size="34.2" fill="#012169" textLength="193.40" lengthAdjust="spacingAndGlyphs" stroke="#012169" stroke-width="0.6">THRESHOLD</text>
<circle cx="891.25" cy="1552.3" r="14" fill="#012169"/>
<text x="885.65" y="1559.20" font-family="Liberation Sans" font-weight="bold" font-size="19.5" fill="#fff" textLength="11.20" lengthAdjust="spacingAndGlyphs" >5</text>
<text x="924.30" y="1563.30" font-family="Liberation Sans" font-weight="bold" font-size="34.2" fill="#012169" textLength="179.90" lengthAdjust="spacingAndGlyphs" stroke="#012169" stroke-width="0.6">STAIRNOSE</text>
<circle cx="1275.8" cy="1547" r="14" fill="#012169"/>
<text x="1270.20" y="1553.90" font-family="Liberation Sans" font-weight="bold" font-size="19.5" fill="#fff" textLength="11.20" lengthAdjust="spacingAndGlyphs" >6</text>
<text x="1303.30" y="1559.60" font-family="Liberation Sans" font-weight="bold" font-size="34.2" fill="#012169" textLength="146.50" lengthAdjust="spacingAndGlyphs" stroke="#012169" stroke-width="0.6">REDUCER</text>
<circle cx="1603.7" cy="1278.1" r="14" fill="#012169"/>
<text x="1598.10" y="1285.00" font-family="Liberation Sans" font-weight="bold" font-size="19.5" fill="#fff" textLength="11.20" lengthAdjust="spacingAndGlyphs" >7</text>
<text x="1635.30" y="1288.40" font-family="Liberation Sans" font-weight="bold" font-size="34.2" fill="#012169" textLength="211.80" lengthAdjust="spacingAndGlyphs" stroke="#012169" stroke-width="0.6">T-MOULDING</text>
<text x="110.50" y="1191.50" font-family="Liberation Sans" font-weight="bold" font-size="34.2" fill="#012169" textLength="100.50" lengthAdjust="spacingAndGlyphs" stroke="#012169" stroke-width="0.6">/ 4 IN 1</text>
<text x="79.65" y="611.60" font-family="Liberation Sans" font-weight="normal" font-size="23" fill="#0B1F5E" textLength="293.70" lengthAdjust="spacingAndGlyphs" stroke="#0B1F5E" stroke-width="0.25">Bridges multiple types of</text>
<text x="79.65" y="643.00" font-family="Liberation Sans" font-weight="normal" font-size="23" fill="#0B1F5E" textLength="309.60" lengthAdjust="spacingAndGlyphs" stroke="#0B1F5E" stroke-width="0.25">flooring surfaces together</text>
<text x="148.70" y="994.40" font-family="Liberation Sans" font-weight="normal" font-size="23" fill="#0B1F5E" textLength="261.20" lengthAdjust="spacingAndGlyphs" stroke="#0B1F5E" stroke-width="0.25">Covers the expansion</text>
<text x="148.70" y="1024.80" font-family="Liberation Sans" font-weight="normal" font-size="23" fill="#0B1F5E" textLength="351.60" lengthAdjust="spacingAndGlyphs" stroke="#0B1F5E" stroke-width="0.25">space berween wall and floor</text>
<text x="148.70" y="1055.30" font-family="Liberation Sans" font-weight="normal" font-size="23" fill="#0B1F5E" textLength="298.80" lengthAdjust="spacingAndGlyphs" stroke="#0B1F5E" stroke-width="0.25">with a low-profile design.</text>
<text x="73.30" y="1426.20" font-family="Liberation Sans" font-weight="normal" font-size="23" fill="#0B1F5E" textLength="289.70" lengthAdjust="spacingAndGlyphs" stroke="#0B1F5E" stroke-width="0.25">1 solution for 4 moulding</text>
<text x="73.30" y="1457.40" font-family="Liberation Sans" font-weight="normal" font-size="23" fill="#0B1F5E" textLength="85.30" lengthAdjust="spacingAndGlyphs" stroke="#0B1F5E" stroke-width="0.25">needs :</text>
<text x="394.00" y="1762.50" font-family="Liberation Sans" font-weight="normal" font-size="23" fill="#0B1F5E" textLength="341.80" lengthAdjust="spacingAndGlyphs" stroke="#0B1F5E" stroke-width="0.25">Provides a smooth transition</text>
<text x="394.00" y="1793.00" font-family="Liberation Sans" font-weight="normal" font-size="23" fill="#0B1F5E" textLength="364.60" lengthAdjust="spacingAndGlyphs" stroke="#0B1F5E" stroke-width="0.25">between two types of flooring,</text>
<text x="394.00" y="1823.50" font-family="Liberation Sans" font-weight="normal" font-size="23" fill="#0B1F5E" textLength="318.60" lengthAdjust="spacingAndGlyphs" stroke="#0B1F5E" stroke-width="0.25">such as hardwood flooring</text>
<text x="394.00" y="1854.00" font-family="Liberation Sans" font-weight="normal" font-size="23" fill="#0B1F5E" textLength="135.60" lengthAdjust="spacingAndGlyphs" stroke="#0B1F5E" stroke-width="0.25">and carpet</text>
<text x="881.70" y="1789.80" font-family="Liberation Sans" font-weight="normal" font-size="23" fill="#0B1F5E" textLength="280.90" lengthAdjust="spacingAndGlyphs" stroke="#0B1F5E" stroke-width="0.25">Protects stair edge and</text>
<text x="881.70" y="1821.00" font-family="Liberation Sans" font-weight="normal" font-size="23" fill="#0B1F5E" textLength="274.70" lengthAdjust="spacingAndGlyphs" stroke="#0B1F5E" stroke-width="0.25">conceals gap between</text>
<text x="881.70" y="1851.25" font-family="Liberation Sans" font-weight="normal" font-size="23" fill="#0B1F5E" textLength="177.90" lengthAdjust="spacingAndGlyphs" stroke="#0B1F5E" stroke-width="0.25">riser and tread</text>
<text x="1261.70" y="1789.00" font-family="Liberation Sans" font-weight="normal" font-size="23" fill="#0B1F5E" textLength="222.60" lengthAdjust="spacingAndGlyphs" stroke="#0B1F5E" stroke-width="0.25">Provides a smooth</text>
<text x="1261.70" y="1819.40" font-family="Liberation Sans" font-weight="normal" font-size="23" fill="#0B1F5E" textLength="299.70" lengthAdjust="spacingAndGlyphs" stroke="#0B1F5E" stroke-width="0.25">transition between floors</text>
<text x="1261.70" y="1849.60" font-family="Liberation Sans" font-weight="normal" font-size="23" fill="#0B1F5E" textLength="229.90" lengthAdjust="spacingAndGlyphs" stroke="#0B1F5E" stroke-width="0.25">of different heights</text>
<text x="1591.80" y="1521.80" font-family="Liberation Sans" font-weight="normal" font-size="23" fill="#0B1F5E" textLength="223.50" lengthAdjust="spacingAndGlyphs" stroke="#0B1F5E" stroke-width="0.25">Provides a smooth</text>
<text x="1591.80" y="1551.80" font-family="Liberation Sans" font-weight="normal" font-size="23" fill="#0B1F5E" textLength="299.40" lengthAdjust="spacingAndGlyphs" stroke="#0B1F5E" stroke-width="0.25">transition between floors</text>
<text x="1591.80" y="1580.90" font-family="Liberation Sans" font-weight="normal" font-size="23" fill="#0B1F5E" textLength="226.30" lengthAdjust="spacingAndGlyphs" stroke="#0B1F5E" stroke-width="0.25">of the same height</text>
<text x="164.00" y="1457.40" font-family="Liberation Sans" font-weight="normal" font-size="23" fill="#0B1F5E" textLength="160.90" lengthAdjust="spacingAndGlyphs" stroke="#0B1F5E" stroke-width="0.7">Hard-surface</text>
<text x="73.30" y="1488.50" font-family="Liberation Sans" font-weight="normal" font-size="23" fill="#0B1F5E" textLength="259.00" lengthAdjust="spacingAndGlyphs" stroke="#0B1F5E" stroke-width="0.7">Reducer, T-moulding,</text>
<text x="73.30" y="1518.50" font-family="Liberation Sans" font-weight="normal" font-size="23" fill="#0B1F5E" textLength="194.30" lengthAdjust="spacingAndGlyphs" stroke="#0B1F5E" stroke-width="0.7">Carpet trim and</text>
<text x="73.30" y="1549.60" font-family="Liberation Sans" font-weight="normal" font-size="23" fill="#0B1F5E" textLength="165.60" lengthAdjust="spacingAndGlyphs" stroke="#0B1F5E" stroke-width="0.7">End moulding</text>
<polyline points="376.00,592.00 1068.00,919.00" fill="none" stroke="#1E9AD6" stroke-width="2" stroke-linejoin="miter" stroke-linecap="butt" />
<polyline points="367.00,954.00 792.00,1008.00 797.00,1033.00" fill="none" stroke="#1E9AD6" stroke-width="2" stroke-linejoin="miter" stroke-linecap="butt" />
<polyline points="369.00,1367.00 896.00,1121.00" fill="none" stroke="#1E9AD6" stroke-width="2" stroke-linejoin="miter" stroke-linecap="butt" />
<polyline points="680.00,1582.00 1027.00,1196.00" fill="none" stroke="#1E9AD6" stroke-width="2" stroke-linejoin="miter" stroke-linecap="butt" />
<polyline points="1143.00,1582.00 1154.50,1426.00 1117.00,1013.00" fill="none" stroke="#1E9AD6" stroke-width="2" stroke-linejoin="miter" stroke-linecap="butt" />
<polyline points="1491.30,1579.50 1469.60,1468.30 1367.00,1082.00" fill="none" stroke="#1E9AD6" stroke-width="2" stroke-linejoin="miter" stroke-linecap="butt" />
<polyline points="1590.60,1381.00 1425.00,1113.00" fill="none" stroke="#1E9AD6" stroke-width="2" stroke-linejoin="miter" stroke-linecap="butt" />
</svg>
</body></html>
